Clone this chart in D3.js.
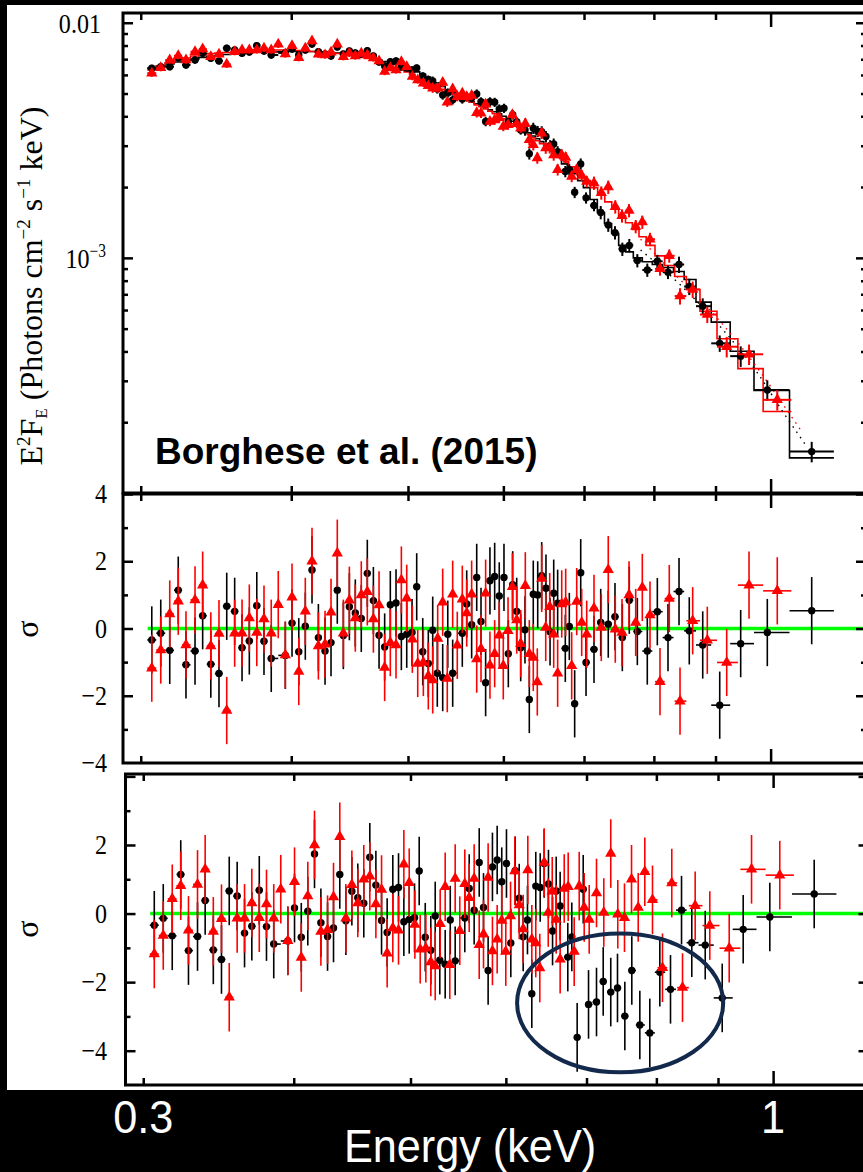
<!DOCTYPE html>
<html>
<head>
<meta charset="utf-8">
<script src="https://cdn.jsdelivr.net/npm/d3@7"></script>
<style>
  html, body { margin: 0; padding: 0; background: #000; }
  svg { display: block; }
  .tick-label { font-family: "Liberation Serif", "Times New Roman", serif; font-size: 28px; fill: #000; }
  .axis-title { font-family: "Liberation Serif", "Times New Roman", serif; fill: #000; }
  .energy-label { font-family: "Liberation Sans", Arial, sans-serif; fill: #fff; }
</style>
</head>
<body>
<script>
// ---- black data set (filled circles) ----
var blackE = [0.3064,0.3117,0.3171,0.3223,0.3271,0.3328,0.3377,0.3430,0.3484,0.3536,
  0.3590,0.3641,0.3692,0.3745,0.3797,0.3850,0.3955,0.4006,0.4058,0.4109,
  0.4162,0.4213,0.4267,0.4316,0.4368,0.4419,0.4470,0.4521,0.4573,0.4626,
  0.4680,0.4731,0.4782,0.4834,0.4887,0.4937,0.4988,0.5039,0.5084,0.5143,
  0.5198,0.5242,0.5288,0.5343,0.5395,0.5446,0.5547,0.5594,0.5647,0.5702,
  0.5749,0.5800,0.5848,0.5901,0.5953,0.6007,0.6057,0.6108,0.6155,0.6202,
  0.6253,0.6305,0.6353,0.6407,0.6456,0.6509,0.6560,0.6606,0.6656,0.6754,
  0.6806,0.6876,0.6956,0.7027,0.7135,0.7227,0.7332,0.7427,0.7532,0.7633,
  0.7751,0.7900,0.8053,0.8219,0.8394,0.8560,0.8783,0.9073,0.9444,0.9937,
  1.0817];
var blackFlux = [6.40e-3,6.50e-3,6.50e-3,7.10e-3,6.61e-3,6.94e-3,7.41e-3,7.06e-3,6.88e-3,7.79e-3,
  7.66e-3,7.41e-3,7.51e-3,7.99e-3,7.58e-3,7.29e-3,7.44e-3,7.73e-3,7.29e-3,7.66e-3,
  8.12e-3,7.53e-3,7.36e-3,7.22e-3,7.89e-3,7.36e-3,7.58e-3,7.44e-3,7.36e-3,7.61e-3,
  7.22e-3,6.81e-3,6.55e-3,6.83e-3,6.88e-3,6.50e-3,6.42e-3,6.30e-3,6.42e-3,5.94e-3,
  5.71e-3,5.65e-3,5.23e-3,4.93e-3,5.03e-3,4.70e-3,4.74e-3,4.84e-3,4.79e-3,4.98e-3,
  4.61e-3,3.80e-3,4.61e-3,4.59e-3,4.30e-3,4.33e-3,3.79e-3,4.06e-3,3.79e-3,3.50e-3,
  3.50e-3,2.77e-3,3.56e-3,3.45e-3,3.44e-3,3.28e-3,3.00e-3,3.05e-3,2.83e-3,2.33e-3,
  2.37e-3,1.90e-3,2.51e-3,1.80e-3,1.67e-3,1.56e-3,1.38e-3,1.28e-3,1.09e-3,1.13e-3,
  9.74e-4,8.88e-4,9.67e-4,8.69e-4,9.37e-4,7.55e-4,6.23e-4,4.33e-4,3.82e-4,2.74e-4,
  1.50e-4];
var blackModel = [6.42e-3,6.55e-3,6.68e-3,6.81e-3,6.91e-3,7.01e-3,7.12e-3,7.19e-3,7.26e-3,7.33e-3,
  7.40e-3,7.44e-3,7.47e-3,7.51e-3,7.51e-3,7.51e-3,7.55e-3,7.55e-3,7.55e-3,7.55e-3,
  7.55e-3,7.51e-3,7.51e-3,7.47e-3,7.44e-3,7.40e-3,7.36e-3,7.29e-3,7.22e-3,7.15e-3,
  7.05e-3,6.94e-3,6.84e-3,6.75e-3,6.65e-3,6.55e-3,6.42e-3,6.30e-3,6.18e-3,6.03e-3,
  5.88e-3,5.71e-3,5.55e-3,5.36e-3,5.18e-3,5.03e-3,4.79e-3,4.70e-3,4.61e-3,4.52e-3,
  4.43e-3,4.34e-3,4.26e-3,4.18e-3,4.10e-3,4.00e-3,3.90e-3,3.81e-3,3.72e-3,3.61e-3,
  3.50e-3,3.40e-3,3.30e-3,3.21e-3,3.12e-3,3.01e-3,2.91e-3,2.81e-3,2.72e-3,2.51e-3,
  2.42e-3,2.28e-3,2.13e-3,1.99e-3,1.77e-3,1.56e-3,1.40e-3,1.27e-3,1.13e-3,1.06e-3,
  1.00e-3,9.63e-4,9.37e-4,9.10e-4,8.75e-4,8.09e-4,6.48e-4,5.33e-4,4.01e-4,2.73e-4,
  1.41e-4];
// fractional 1-sigma error of the flux points
var blackErr = [0.035,0.035,0.035,0.035,0.035,0.035,0.035,0.035,0.035,0.035,
  0.035,0.035,0.035,0.035,0.035,0.035,0.035,0.035,0.035,0.035,
  0.035,0.035,0.035,0.035,0.035,0.035,0.035,0.035,0.035,0.035,
  0.035,0.035,0.035,0.035,0.035,0.035,0.035,0.035,0.035,0.035,
  0.045,0.045,0.045,0.045,0.045,0.045,0.045,0.045,0.045,0.045,
  0.045,0.045,0.045,0.045,0.045,0.045,0.045,0.045,0.045,0.045,
  0.055,0.055,0.055,0.055,0.055,0.055,0.055,0.055,0.055,0.055,
  0.055,0.055,0.055,0.055,0.055,0.065,0.065,0.065,0.065,0.065,
  0.065,0.065,0.065,0.065,0.08,0.08,0.08,0.08,0.1,0.1,
  0.1];
var blackResMid = [-0.34,-0.14,-0.65,1.14,-1.08,-0.67,0.38,-1.06,-1.34,0.66,
  0.51,-0.57,-0.37,0.68,-0.38,-0.89,-0.80,0.16,-0.69,0.07,
  1.74,-0.27,-0.67,-0.42,1.14,-0.21,0.65,0.46,0.30,1.64,
  0.83,-0.20,-0.55,0.71,0.76,-0.24,-0.17,-0.12,1.24,-0.69,
  -1.04,-0.05,-1.33,-1.46,-0.17,-1.33,-0.14,0.73,0.11,1.52,
  0.21,-1.61,1.42,1.55,0.97,1.52,-0.75,1.30,0.51,-0.57,
  -0.04,-2.11,1.02,1.00,1.57,1.20,-0.10,1.05,0.75,-0.59,
  0.06,-2.24,1.66,-1.01,-0.62,0.18,0.13,0.35,-0.27,0.84,
  -0.09,-0.67,0.50,-0.27,1.10,-0.07,-0.49,-2.28,-0.45,-0.12,
  0.53];
var blackResLow = [-0.34,-0.14,-0.65,1.14,-1.08,-0.67,0.38,-1.06,-1.34,0.66,
  0.51,-0.57,-0.37,0.68,-0.38,-0.89,-0.80,0.16,-0.69,0.07,
  1.74,-0.27,-0.67,-0.42,1.14,-0.21,0.65,0.46,0.30,1.64,
  0.83,-0.20,-0.55,0.71,0.76,-0.24,-0.17,-0.12,1.24,-0.69,
  -1.07,-0.07,-1.36,-1.48,-0.19,-1.38,-0.13,0.73,0.10,1.49,
  0.18,-1.66,1.36,1.56,0.93,1.46,-0.86,1.25,0.45,-0.68,
  -0.19,-2.34,0.80,0.76,1.46,0.86,-0.51,0.66,0.22,-1.27,
  -0.68,-3.61,0.71,-2.65,-2.58,-1.98,-2.29,-2.17,-2.99,-1.66,
  -3.25,-3.48,-1.71,-2.21,0.10,-0.85,-0.92,-2.46,-0.46,-0.10,
  0.57];

// ---- red data set (filled triangles) ----
var redE = [0.3064,0.3117,0.3171,0.3223,0.3271,0.3328,0.3377,0.3430,0.3484,0.3536,
  0.3590,0.3641,0.3692,0.3745,0.3797,0.3850,0.3902,0.3955,0.4006,0.4058,
  0.4109,0.4162,0.4213,0.4267,0.4316,0.4368,0.4419,0.4470,0.4521,0.4573,
  0.4626,0.4680,0.4731,0.4782,0.4834,0.4887,0.4937,0.4988,0.5042,0.5094,
  0.5149,0.5198,0.5242,0.5292,0.5343,0.5390,0.5446,0.5494,0.5547,0.5594,
  0.5647,0.5702,0.5749,0.5800,0.5848,0.5901,0.5953,0.5999,0.6054,0.6104,
  0.6155,0.6202,0.6257,0.6305,0.6353,0.6402,0.6456,0.6506,0.6556,0.6606,
  0.6656,0.6708,0.6759,0.6837,0.6903,0.6969,0.7036,0.7135,0.7235,0.7332,
  0.7431,0.7527,0.7629,0.7727,0.7825,0.7941,0.8094,0.8239,0.8410,0.8616,
  0.8860,0.9195,0.9596,1.0128];
var redFlux = [6.10e-3,6.44e-3,6.94e-3,7.24e-3,6.94e-3,7.53e-3,7.73e-3,7.17e-3,7.34e-3,6.66e-3,
  7.53e-3,7.66e-3,7.66e-3,7.66e-3,7.79e-3,7.66e-3,8.10e-3,7.36e-3,7.99e-3,7.10e-3,
  7.79e-3,8.36e-3,7.34e-3,7.29e-3,7.49e-3,8.10e-3,7.17e-3,7.41e-3,7.22e-3,7.41e-3,
  7.29e-3,7.08e-3,6.88e-3,6.20e-3,6.44e-3,6.30e-3,6.83e-3,6.50e-3,5.90e-3,5.71e-3,
  5.53e-3,5.40e-3,5.27e-3,5.27e-3,5.57e-3,4.59e-3,5.23e-3,4.85e-3,5.01e-3,4.84e-3,
  4.90e-3,4.14e-3,4.12e-3,4.50e-3,3.80e-3,3.86e-3,3.94e-3,3.62e-3,3.68e-3,4.06e-3,
  3.72e-3,3.56e-3,3.72e-3,3.18e-3,3.03e-3,2.66e-3,3.39e-3,2.93e-3,2.94e-3,2.74e-3,
  2.37e-3,2.74e-3,2.67e-3,2.22e-3,2.37e-3,2.24e-3,2.11e-3,2.08e-3,1.89e-3,2.00e-3,
  1.65e-3,1.51e-3,1.59e-3,1.36e-3,1.42e-3,1.20e-3,8.98e-4,1.02e-3,6.88e-4,7.34e-4,
  5.74e-4,4.19e-4,3.89e-4,2.49e-4];
var redModel = [6.30e-3,6.52e-3,6.75e-3,6.94e-3,7.08e-3,7.22e-3,7.33e-3,7.40e-3,7.44e-3,7.47e-3,
  7.51e-3,7.55e-3,7.58e-3,7.62e-3,7.66e-3,7.66e-3,7.66e-3,7.66e-3,7.66e-3,7.62e-3,
  7.58e-3,7.55e-3,7.51e-3,7.47e-3,7.44e-3,7.40e-3,7.36e-3,7.29e-3,7.22e-3,7.15e-3,
  7.05e-3,6.94e-3,6.81e-3,6.68e-3,6.55e-3,6.42e-3,6.30e-3,6.18e-3,6.03e-3,5.88e-3,
  5.71e-3,5.57e-3,5.47e-3,5.33e-3,5.21e-3,5.08e-3,4.96e-3,4.86e-3,4.77e-3,4.68e-3,
  4.59e-3,4.47e-3,4.39e-3,4.30e-3,4.20e-3,4.10e-3,4.00e-3,3.90e-3,3.81e-3,3.72e-3,
  3.63e-3,3.54e-3,3.44e-3,3.34e-3,3.24e-3,3.15e-3,3.06e-3,2.97e-3,2.88e-3,2.80e-3,
  2.72e-3,2.64e-3,2.56e-3,2.44e-3,2.34e-3,2.24e-3,2.13e-3,1.99e-3,1.86e-3,1.73e-3,
  1.62e-3,1.51e-3,1.41e-3,1.32e-3,1.23e-3,1.13e-3,1.02e-3,9.28e-4,8.33e-4,7.34e-4,
  5.93e-4,4.53e-4,3.38e-4,2.22e-4];
var redErr = [0.035,0.035,0.035,0.035,0.035,0.035,0.035,0.035,0.035,0.035,
  0.035,0.035,0.035,0.035,0.035,0.035,0.035,0.035,0.035,0.035,
  0.035,0.035,0.035,0.035,0.035,0.035,0.035,0.035,0.035,0.035,
  0.035,0.035,0.035,0.035,0.035,0.035,0.035,0.035,0.035,0.035,
  0.035,0.035,0.045,0.045,0.045,0.045,0.045,0.045,0.045,0.045,
  0.045,0.045,0.045,0.045,0.045,0.045,0.045,0.045,0.045,0.045,
  0.045,0.045,0.055,0.055,0.055,0.055,0.055,0.055,0.055,0.055,
  0.055,0.055,0.055,0.055,0.055,0.055,0.055,0.065,0.065,0.065,
  0.065,0.065,0.065,0.065,0.065,0.065,0.065,0.065,0.08,0.08,
  0.08,0.1,0.1,0.1];
var redRes = [-1.18,-0.64,0.43,0.81,-0.49,0.85,1.29,-0.52,-0.15,-2.44,
  -0.14,-0.14,0.31,-0.12,0.28,-0.14,0.71,-0.79,0.93,-1.28,
  0.51,2.00,-0.52,-0.47,0.48,2.24,-0.14,0.84,0.31,1.00,
  1.09,0.28,0.70,-1.16,-0.42,-0.49,1.44,0.90,-0.32,-1.04,
  -1.01,-1.41,-1.53,-0.30,0.78,-1.49,1.02,-0.50,0.87,0.46,
  1.02,-0.91,-0.60,1.05,-1.09,-0.75,-0.20,-1.11,-0.07,1.24,
  0.25,-0.45,1.27,-0.75,-0.86,-1.59,1.49,0.03,0.65,-0.17,
  -1.33,0.73,0.78,-1.11,0.80,0.18,-0.17,0.60,0.03,1.75,
  -0.02,-0.12,1.00,0.18,1.22,0.40,-1.58,0.89,-2.16,0.23,
  -0.35,-1.01,1.29,1.12];

// dotted (unbinned) model curves at high energy
var blackDotE = [0.7799,0.8410,0.9079,0.9743,1.0240,1.0721];
var blackDotF = [1.08e-3,7.70e-4,5.11e-4,3.26e-4,2.21e-4,1.57e-4];
var redDotE = [0.7799,0.8410,0.9079,0.9743,1.0240,1.0578];
var redDotF = [1.20e-3,8.09e-4,5.37e-4,3.42e-4,2.38e-4,1.87e-4];

// ticks
var xMinorTicks = [0.3,0.4,0.5,0.6,0.7,0.8,0.9];
var xMajorTicks = [1];
var xTickLabels = ["0.3","1"];
var xTickLabelValues = [0.3,1];
var fluxMajor = [1e-3,1e-2];
var fluxMinor = [2e-4,3e-4,4e-4,5e-4,6e-4,7e-4,8e-4,9e-4,2e-3,3e-3,4e-3,5e-3,6e-3,7e-3,8e-3,9e-3];
var sigMajor = [-4,-2,0,2,4];
var sigMinor = [-3,-1,1,3];
var sigLabelsMid = [4,2,0,-2,-4];
var sigLabelsLow = [2,0,-2,-4];

// region marked in the lower residual panel
var ellipseE = [0.613,0.909];
var ellipseSig = [-4.63,-0.58];

var width = 863, height = 1172;

var svg = d3.select("body").append("svg")
    .attr("width", width)
    .attr("height", height);

svg.append("rect").attr("width", width).attr("height", height).attr("fill", "#000");
svg.append("rect").attr("x", 7).attr("y", 5).attr("width", 862).attr("height", 1085).attr("fill", "#fff");

var x = d3.scaleLog().domain([0.29, 1.2]).range([123, 866]);
var xLow = d3.scaleLog().domain([0.29, 1.2]).range([125.5, 868.5]);
var yFlux = d3.scaleLog().domain([1e-4, 0.011]).range([493, 13]);
var yMid = d3.scaleLinear().domain([-4, 4]).range([763, 494]);
var yLow = d3.scaleLinear().domain([-5, 4.07]).range([1085, 774]);

function bins(E) {
    var n = E.length, edges = [];
    for (var i = 0; i < n - 1; i++) edges.push(Math.sqrt(E[i] * E[i + 1]));
    var out = [];
    for (var j = 0; j < n; j++) {
        var lo = j === 0 ? E[0] * E[0] / edges[0] : edges[j - 1];
        var hi = j === n - 1 ? E[n - 1] * E[n - 1] / edges[n - 2] : edges[j];
        out.push([lo, hi]);
    }
    return out;
}
var blackBins = bins(blackE);
var redBins = bins(redE);

function styleAxis(g) {
    g.select(".domain").remove();
    g.selectAll(".tick line").attr("stroke", "#000").attr("stroke-width", 2.5);
}

function xTicks(xs, y, down) {
    var mk = down ? d3.axisBottom : d3.axisTop;
    svg.append("g").attr("transform", "translate(0," + y + ")")
        .call(mk(xs).tickValues(xMinorTicks).tickSize(7).tickSizeOuter(0).tickFormat(""))
        .call(styleAxis);
    svg.append("g").attr("transform", "translate(0," + y + ")")
        .call(mk(xs).tickValues(xMajorTicks).tickSize(14).tickSizeOuter(0).tickFormat(""))
        .call(styleAxis);
}

function yTicks(ys, major, minor, xl, xr) {
    [[major, 10], [minor, 5]].forEach(function(p) {
        svg.append("g").attr("transform", "translate(" + xl + ",0)")
            .call(d3.axisRight(ys).tickValues(p[0]).tickSize(p[1]).tickSizeOuter(0).tickFormat(""))
            .call(styleAxis);
        svg.append("g").attr("transform", "translate(" + xr + ",0)")
            .call(d3.axisLeft(ys).tickValues(p[0]).tickSize(p[1]).tickSizeOuter(0).tickFormat(""))
            .call(styleAxis);
    });
}

function frame(xs, ys) {
    var r = xs.range(), d = ys.range();
    svg.append("rect")
        .attr("x", r[0]).attr("y", Math.min(d[0], d[1]))
        .attr("width", r[1] - r[0]).attr("height", Math.abs(d[0] - d[1]))
        .attr("fill", "none").attr("stroke", "#000").attr("stroke-width", 3);
}

function markers(g, data, fx, fy, color, triangle) {
    if (triangle) {
        g.selectAll(".m").data(data).enter().append("path")
            .attr("d", d3.symbol().type(d3.symbolTriangle).size(55))
            .attr("transform", function(d) { return "translate(" + fx(d) + "," + fy(d) + ")"; })
            .attr("fill", color);
    } else {
        g.selectAll(".m").data(data).enter().append("circle")
            .attr("cx", fx).attr("cy", fy).attr("r", 3.7).attr("fill", color);
    }
}

// serif tick label, slightly condensed like the original
function tickLabel(xr, y) {
    return svg.append("text").attr("class", "tick-label")
        .attr("transform", "translate(" + xr + "," + y + ") scale(0.86,1)")
        .attr("text-anchor", "end");
}

// ================= top panel =================
var specPanel = svg.append("g");

function stepLine(binsArr, model) {
    var pts = [];
    binsArr.forEach(function(b, i) { pts.push([b[0], model[i]]); pts.push([b[1], model[i]]); });
    return d3.line().x(function(d) { return x(d[0]); }).y(function(d) { return yFlux(d[1]); })(pts);
}

specPanel.append("path").attr("d", stepLine(blackBins, blackModel))
    .attr("fill", "none").attr("stroke", "#000").attr("stroke-width", 1.6);
specPanel.append("path").attr("d", stepLine(redBins, redModel))
    .attr("fill", "none").attr("stroke", "#f00").attr("stroke-width", 1.6);

var dotLine = d3.line().curve(d3.curveMonotoneX)
    .x(function(d) { return x(d[0]); }).y(function(d) { return yFlux(d[1]); });
specPanel.append("path").attr("d", dotLine(d3.zip(blackDotE, blackDotF)))
    .attr("fill", "none").attr("stroke", "#000").attr("stroke-width", 1.4).attr("stroke-dasharray", "1.5,5");
specPanel.append("path").attr("d", dotLine(d3.zip(redDotE, redDotF)))
    .attr("fill", "none").attr("stroke", "#f00").attr("stroke-width", 1.4).attr("stroke-dasharray", "1.5,5");

function fluxPoints(E, F, err, binsArr, color, triangle) {
    var g = specPanel.append("g");
    var data = E.map(function(e, i) { return {e: e, f: F[i], s: err[i], b: binsArr[i]}; });
    g.selectAll(".ev").data(data).enter().append("line")
        .attr("x1", function(d) { return x(d.e); }).attr("x2", function(d) { return x(d.e); })
        .attr("y1", function(d) { return yFlux(d.f * (1 + d.s)); })
        .attr("y2", function(d) { return yFlux(d.f * (1 - d.s)); })
        .attr("stroke", color).attr("stroke-width", 2);
    g.selectAll(".eh").data(data).enter().append("line")
        .attr("x1", function(d) { return x(d.b[0]); }).attr("x2", function(d) { return x(d.b[1]); })
        .attr("y1", function(d) { return yFlux(d.f); }).attr("y2", function(d) { return yFlux(d.f); })
        .attr("stroke", color).attr("stroke-width", 2);
    markers(g, data, function(d) { return x(d.e); }, function(d) { return yFlux(d.f); }, color, triangle);
}

fluxPoints(blackE, blackFlux, blackErr, blackBins, "#000", false);
fluxPoints(redE, redFlux, redErr, redBins, "#f00", true);

frame(x, yFlux);
xTicks(x, 13, true);
xTicks(x, 493, false);
yTicks(yFlux, fluxMajor, fluxMinor, 123, 866);

tickLabel(101, yFlux(1e-2) + 10).text("0.01");
var t3 = tickLabel(106, yFlux(1e-3) + 10);
t3.append("tspan").text("10");
t3.append("tspan").attr("dy", -11).attr("font-size", 18).text("\u22123");

var yl = svg.append("text").attr("class", "axis-title")
    .attr("transform", "translate(42,286) rotate(-90)")
    .attr("text-anchor", "middle").attr("font-size", 32);
yl.append("tspan").text("E");
yl.append("tspan").attr("dy", -12).attr("font-size", 19).text("2");
yl.append("tspan").attr("dy", 12).text("F");
yl.append("tspan").attr("dy", 5).attr("font-size", 17).text("E");
yl.append("tspan").attr("dy", -5).text(" (Photons cm");
yl.append("tspan").attr("dy", -12).attr("font-size", 19).text("\u22122");
yl.append("tspan").attr("dy", 12).text(" s");
yl.append("tspan").attr("dy", -12).attr("font-size", 19).text("\u22121");
yl.append("tspan").attr("dy", 12).text(" keV)");

svg.append("text").attr("x", 155).attr("y", 464)
    .style("font-family", "'Liberation Sans', Arial, sans-serif")
    .style("font-weight", "bold").style("font-size", "37px")
    .text("Borghese et al. (2015)");

// ================= residual panels =================
function residPanel(xs, ys, bRes, labels, sigmaY) {
    var g = svg.append("g");
    g.append("line")
        .attr("x1", xs(0.304)).attr("x2", xs.range()[1])
        .attr("y1", ys(0)).attr("y2", ys(0))
        .attr("stroke", "#00ff00").attr("stroke-width", 3.5);

    function pts(E, R, binsArr, color, triangle) {
        var data = E.map(function(e, i) { return {e: e, r: R[i], b: binsArr[i]}; });
        var gg = g.append("g");
        gg.selectAll(".ev").data(data).enter().append("line")
            .attr("x1", function(d) { return xs(d.e); }).attr("x2", function(d) { return xs(d.e); })
            .attr("y1", function(d) { return ys(d.r + 1); }).attr("y2", function(d) { return ys(d.r - 1); })
            .attr("stroke", color).attr("stroke-width", 1.6);
        gg.selectAll(".eh").data(data).enter().append("line")
            .attr("x1", function(d) { return xs(d.b[0]); }).attr("x2", function(d) { return xs(d.b[1]); })
            .attr("y1", function(d) { return ys(d.r); }).attr("y2", function(d) { return ys(d.r); })
            .attr("stroke", color).attr("stroke-width", 1.6);
        markers(gg, data, function(d) { return xs(d.e); }, function(d) { return ys(d.r); }, color, triangle);
    }
    pts(blackE, bRes, blackBins, "#000", false);
    pts(redE, redRes, redBins, "#f00", true);

    frame(xs, ys);
    var d = ys.range();
    xTicks(xs, Math.min(d[0], d[1]), true);
    xTicks(xs, Math.max(d[0], d[1]), false);
    yTicks(ys, sigMajor.filter(function(v) { return v > ys.domain()[0] && v < ys.domain()[1] + 0.01; }),
        sigMinor, xs.range()[0], xs.range()[1]);

    labels.forEach(function(v) {
        tickLabel(107, ys(v) + 9).text(v < 0 ? "\u2212" + Math.abs(v) : String(v));
    });
    svg.append("text").attr("class", "axis-title")
        .attr("transform", "translate(38," + sigmaY + ") rotate(-90)")
        .attr("text-anchor", "middle").attr("font-size", 32).text("\u03c3");
}

residPanel(x, yMid, blackResMid, sigLabelsMid, 629);
residPanel(xLow, yLow, blackResLow, sigLabelsLow, 929);

// annotation ellipse
svg.append("ellipse")
    .attr("cx", (xLow(ellipseE[0]) + xLow(ellipseE[1])) / 2)
    .attr("cy", (yLow(ellipseSig[0]) + yLow(ellipseSig[1])) / 2)
    .attr("rx", (xLow(ellipseE[1]) - xLow(ellipseE[0])) / 2)
    .attr("ry", (yLow(ellipseSig[0]) - yLow(ellipseSig[1])) / 2)
    .attr("fill", "none").attr("stroke", "#13294b").attr("stroke-width", 4);

// energy labels on the black band
xTickLabels.forEach(function(s, i) {
    svg.append("text").attr("class", "energy-label")
        .attr("transform", "translate(" + xLow(xTickLabelValues[i]) + ",1133) scale(0.94,1)")
        .attr("text-anchor", "middle").attr("font-size", 46).text(s);
});
svg.append("text").attr("class", "energy-label")
    .attr("transform", "translate(470,1162) scale(0.94,1)")
    .attr("text-anchor", "middle").attr("font-size", 46).text("Energy (keV)");
</script>
</body>
</html>
